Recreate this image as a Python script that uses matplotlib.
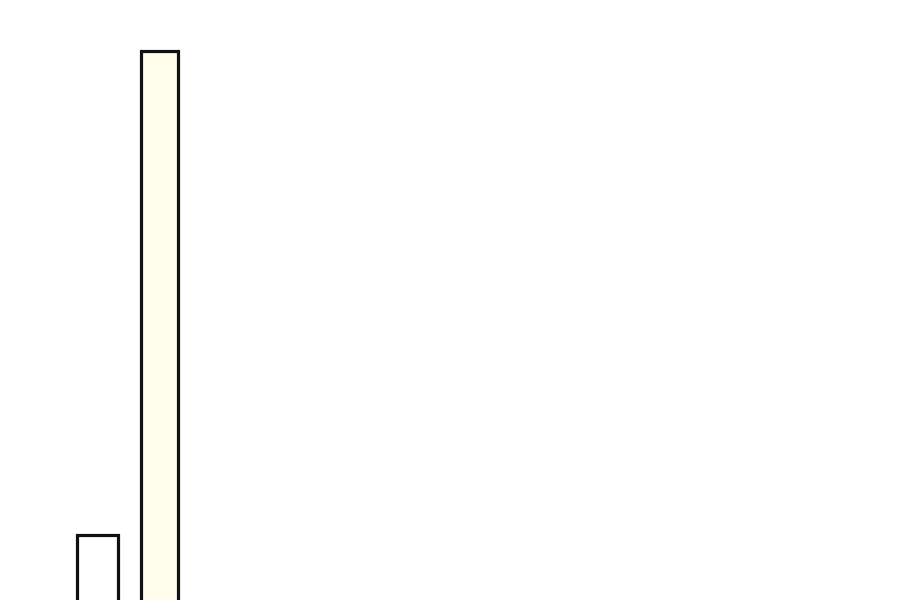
import matplotlib
matplotlib.use("Agg")
import matplotlib.pyplot as plt

categories = ["A", "B"]
values = [75, 559]
fills = ["#ffffff", "#fffeec"]
widths = [0.66, 0.60]

fig = plt.figure(figsize=(9, 6), dpi=100)
ax = fig.add_axes([0, 0, 1, 1])
x = list(range(len(categories)))
ax.bar(x, values, width=widths, color=fills, edgecolor="#111111", linewidth=2.3)
ax.set_xlim(-97.5 / 62, (900 - 97.5) / 62)
ax.set_ylim(10, 610)
ax.axis("off")
fig.savefig("out.png", dpi=100)
